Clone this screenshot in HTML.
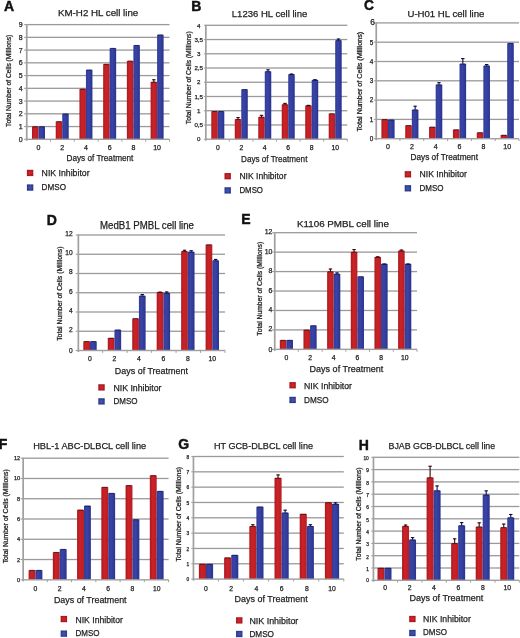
<!DOCTYPE html>
<html><head><meta charset="utf-8"><style>
html,body{margin:0;padding:0;background:#fff;}
body{width:520px;height:638px;overflow:hidden;}
svg{display:block;font-family:"Liberation Sans", sans-serif;filter:blur(0.5px);}
</style></head><body>
<svg width="520" height="638" viewBox="0 0 520 638"><defs>
<linearGradient id="gr" x1="0" x2="1" y1="0" y2="0"><stop offset="0" stop-color="#a81a20"/><stop offset="0.4" stop-color="#cc2226"/><stop offset="1" stop-color="#b81e25"/></linearGradient>
<linearGradient id="gb" x1="0" x2="1" y1="0" y2="0"><stop offset="0" stop-color="#303c96"/><stop offset="0.4" stop-color="#3a44a6"/><stop offset="1" stop-color="#2a348e"/></linearGradient>
<radialGradient id="lr" cx="0.5" cy="0.5" r="0.6"><stop offset="0.3" stop-color="#d0222a"/><stop offset="1" stop-color="#981419"/></radialGradient>
<radialGradient id="lb" cx="0.5" cy="0.5" r="0.6"><stop offset="0.3" stop-color="#404eb0"/><stop offset="1" stop-color="#22307a"/></radialGradient>
</defs>
<rect width="520" height="638" fill="#fff"/>
<g><text x="4" y="10.7" font-size="14" font-weight="bold" fill="#111" stroke="#111" stroke-width="0.45">A</text><text x="58" y="16" font-size="9.52" textLength="80.3" lengthAdjust="spacingAndGlyphs" fill="#222" stroke="#222" stroke-width="0.25">KM-H2 HL cell line</text><rect x="24.1" y="138.75" width="2.5" height="1.1" fill="#a0a0a0"/><text x="22.6" y="141.82" font-size="7" text-anchor="end" fill="#222" stroke="#222" stroke-width="0.25">0</text><rect x="26.6" y="125.91" width="142.9" height="1.3" fill="#9a9a9a"/><rect x="24.1" y="126.01" width="2.5" height="1.1" fill="#a0a0a0"/><text x="22.6" y="129.08" font-size="7" text-anchor="end" fill="#222" stroke="#222" stroke-width="0.25">1</text><rect x="26.6" y="113.16" width="142.9" height="1.3" fill="#9a9a9a"/><rect x="24.1" y="113.26" width="2.5" height="1.1" fill="#a0a0a0"/><text x="22.6" y="116.33" font-size="7" text-anchor="end" fill="#222" stroke="#222" stroke-width="0.25">2</text><rect x="26.6" y="100.42" width="142.9" height="1.3" fill="#9a9a9a"/><rect x="24.1" y="100.52" width="2.5" height="1.1" fill="#a0a0a0"/><text x="22.6" y="103.59" font-size="7" text-anchor="end" fill="#222" stroke="#222" stroke-width="0.25">3</text><rect x="26.6" y="87.67" width="142.9" height="1.3" fill="#9a9a9a"/><rect x="24.1" y="87.77" width="2.5" height="1.1" fill="#a0a0a0"/><text x="22.6" y="90.84" font-size="7" text-anchor="end" fill="#222" stroke="#222" stroke-width="0.25">4</text><rect x="26.6" y="74.93" width="142.9" height="1.3" fill="#9a9a9a"/><rect x="24.1" y="75.03" width="2.5" height="1.1" fill="#a0a0a0"/><text x="22.6" y="78.1" font-size="7" text-anchor="end" fill="#222" stroke="#222" stroke-width="0.25">5</text><rect x="26.6" y="62.18" width="142.9" height="1.3" fill="#9a9a9a"/><rect x="24.1" y="62.28" width="2.5" height="1.1" fill="#a0a0a0"/><text x="22.6" y="65.35" font-size="7" text-anchor="end" fill="#222" stroke="#222" stroke-width="0.25">6</text><rect x="26.6" y="49.44" width="142.9" height="1.3" fill="#9a9a9a"/><rect x="24.1" y="49.54" width="2.5" height="1.1" fill="#a0a0a0"/><text x="22.6" y="52.61" font-size="7" text-anchor="end" fill="#222" stroke="#222" stroke-width="0.25">7</text><rect x="26.6" y="36.69" width="142.9" height="1.3" fill="#9a9a9a"/><rect x="24.1" y="36.79" width="2.5" height="1.1" fill="#a0a0a0"/><text x="22.6" y="39.86" font-size="7" text-anchor="end" fill="#222" stroke="#222" stroke-width="0.25">8</text><rect x="26.6" y="23.95" width="142.9" height="1.3" fill="#9a9a9a"/><rect x="24.1" y="24.05" width="2.5" height="1.1" fill="#a0a0a0"/><text x="22.6" y="27.12" font-size="7" text-anchor="end" fill="#222" stroke="#222" stroke-width="0.25">9</text><rect x="32" y="126.56" width="6.5" height="12.74" fill="url(#gr)"/><rect x="32.8" y="126.26" width="4.9" height="1" fill="#300808" opacity="0.75"/><rect x="38.5" y="126.56" width="6.5" height="12.74" fill="url(#gb)"/><rect x="39.3" y="126.26" width="4.9" height="1" fill="#0c1040" opacity="0.75"/><text x="38.5" y="150.2" font-size="7" text-anchor="middle" fill="#222" stroke="#222" stroke-width="0.25">0</text><rect x="55.72" y="121.46" width="6.5" height="17.84" fill="url(#gr)"/><rect x="56.52" y="121.16" width="4.9" height="1" fill="#300808" opacity="0.75"/><rect x="62.22" y="113.81" width="6.5" height="25.49" fill="url(#gb)"/><rect x="63.02" y="113.51" width="4.9" height="1" fill="#0c1040" opacity="0.75"/><rect x="49.92" y="139.3" width="1" height="2.4" fill="#a0a0a0"/><text x="62.22" y="150.2" font-size="7" text-anchor="middle" fill="#222" stroke="#222" stroke-width="0.25">2</text><rect x="79.44" y="88.96" width="6.5" height="50.34" fill="url(#gr)"/><rect x="80.24" y="88.66" width="4.9" height="1" fill="#300808" opacity="0.75"/><rect x="85.94" y="69.84" width="6.5" height="69.46" fill="url(#gb)"/><rect x="86.74" y="69.54" width="4.9" height="1" fill="#0c1040" opacity="0.75"/><rect x="73.73" y="139.3" width="1" height="2.4" fill="#a0a0a0"/><text x="85.94" y="150.2" font-size="7" text-anchor="middle" fill="#222" stroke="#222" stroke-width="0.25">4</text><rect x="103.16" y="64.11" width="6.5" height="75.19" fill="url(#gr)"/><rect x="103.96" y="63.81" width="4.9" height="1" fill="#300808" opacity="0.75"/><rect x="109.66" y="48.18" width="6.5" height="91.12" fill="url(#gb)"/><rect x="110.46" y="47.88" width="4.9" height="1" fill="#0c1040" opacity="0.75"/><rect x="97.55" y="139.3" width="1" height="2.4" fill="#a0a0a0"/><text x="109.66" y="150.2" font-size="7" text-anchor="middle" fill="#222" stroke="#222" stroke-width="0.25">6</text><rect x="126.88" y="60.92" width="6.5" height="78.38" fill="url(#gr)"/><rect x="127.68" y="60.62" width="4.9" height="1" fill="#300808" opacity="0.75"/><rect x="133.38" y="45.25" width="6.5" height="94.05" fill="url(#gb)"/><rect x="134.18" y="44.95" width="4.9" height="1" fill="#0c1040" opacity="0.75"/><rect x="121.37" y="139.3" width="1" height="2.4" fill="#a0a0a0"/><text x="133.38" y="150.2" font-size="7" text-anchor="middle" fill="#222" stroke="#222" stroke-width="0.25">8</text><rect x="150.6" y="81.95" width="6.5" height="57.35" fill="url(#gr)"/><rect x="153.3" y="79.4" width="1.1" height="2.55" fill="#300808"/><rect x="152.15" y="79.2" width="3.4" height="1.1" fill="#300808"/><rect x="151.4" y="81.65" width="4.9" height="1" fill="#300808" opacity="0.75"/><rect x="157.1" y="34.8" width="6.5" height="104.5" fill="url(#gb)"/><rect x="157.9" y="34.5" width="4.9" height="1" fill="#0c1040" opacity="0.75"/><rect x="145.18" y="139.3" width="1" height="2.4" fill="#a0a0a0"/><text x="157.1" y="150.2" font-size="7" text-anchor="middle" fill="#222" stroke="#222" stroke-width="0.25">10</text><rect x="169" y="139.3" width="1" height="2.4" fill="#a0a0a0"/><rect x="25.9" y="24.1" width="1.7" height="116.7" fill="#a0a0a0"/><rect x="26.6" y="138.6" width="142.9" height="1.4" fill="#a0a0a0"/><text x="66.5" y="161" font-size="9.36" textLength="66.9" lengthAdjust="spacingAndGlyphs" fill="#222" stroke="#222" stroke-width="0.25">Days of Treatment</text><rect x="26.9" y="169.8" width="6.4" height="6.3" fill="url(#lr)"/><rect x="26.9" y="184.4" width="6.4" height="6.3" fill="url(#lb)"/><text x="41.6" y="176.2" font-size="9.36" textLength="48" lengthAdjust="spacingAndGlyphs" fill="#222" stroke="#222" stroke-width="0.25">NIK Inhibitor</text><text x="41.6" y="189.8" font-size="9.36" textLength="24.4" lengthAdjust="spacingAndGlyphs" fill="#222" stroke="#222" stroke-width="0.25">DMSO</text><text x="0" y="0" font-size="6.3" text-anchor="middle" textLength="92.1" lengthAdjust="spacingAndGlyphs" fill="#222" stroke="#222" stroke-width="0.25" transform="translate(10.8 80.85) rotate(-90)">Total Number of Cells (Millions)</text></g>
<g><text x="191.2" y="10.7" font-size="14" font-weight="bold" fill="#111" stroke="#111" stroke-width="0.45">B</text><text x="231.8" y="17.2" font-size="9.84" textLength="75.5" lengthAdjust="spacingAndGlyphs" fill="#222" stroke="#222" stroke-width="0.25">L1236 HL cell line</text><rect x="203.9" y="138.65" width="1.8" height="1.1" fill="#a0a0a0"/><text x="198.7" y="141.43" font-size="6.2" text-anchor="middle" fill="#222" stroke="#222" stroke-width="0.25">0</text><rect x="205.7" y="124.31" width="141.6" height="1.3" fill="#9a9a9a"/><rect x="203.9" y="124.41" width="1.8" height="1.1" fill="#a0a0a0"/><text x="198.7" y="127.19" font-size="6.2" text-anchor="middle" fill="#222" stroke="#222" stroke-width="0.25">0,5</text><rect x="205.7" y="110.07" width="141.6" height="1.3" fill="#9a9a9a"/><rect x="203.9" y="110.17" width="1.8" height="1.1" fill="#a0a0a0"/><text x="198.7" y="112.96" font-size="6.2" text-anchor="middle" fill="#222" stroke="#222" stroke-width="0.25">1</text><rect x="205.7" y="95.84" width="141.6" height="1.3" fill="#9a9a9a"/><rect x="203.9" y="95.94" width="1.8" height="1.1" fill="#a0a0a0"/><text x="198.7" y="98.72" font-size="6.2" text-anchor="middle" fill="#222" stroke="#222" stroke-width="0.25">1,5</text><rect x="205.7" y="81.6" width="141.6" height="1.3" fill="#9a9a9a"/><rect x="203.9" y="81.7" width="1.8" height="1.1" fill="#a0a0a0"/><text x="198.7" y="84.48" font-size="6.2" text-anchor="middle" fill="#222" stroke="#222" stroke-width="0.25">2</text><rect x="205.7" y="67.36" width="141.6" height="1.3" fill="#9a9a9a"/><rect x="203.9" y="67.46" width="1.8" height="1.1" fill="#a0a0a0"/><text x="198.7" y="70.24" font-size="6.2" text-anchor="middle" fill="#222" stroke="#222" stroke-width="0.25">2,5</text><rect x="205.7" y="53.12" width="141.6" height="1.3" fill="#9a9a9a"/><rect x="203.9" y="53.22" width="1.8" height="1.1" fill="#a0a0a0"/><text x="198.7" y="56.01" font-size="6.2" text-anchor="middle" fill="#222" stroke="#222" stroke-width="0.25">3</text><rect x="205.7" y="38.89" width="141.6" height="1.3" fill="#9a9a9a"/><rect x="203.9" y="38.99" width="1.8" height="1.1" fill="#a0a0a0"/><text x="198.7" y="41.77" font-size="6.2" text-anchor="middle" fill="#222" stroke="#222" stroke-width="0.25">3,5</text><rect x="205.7" y="24.65" width="141.6" height="1.3" fill="#9a9a9a"/><rect x="203.9" y="24.75" width="1.8" height="1.1" fill="#a0a0a0"/><text x="198.7" y="27.53" font-size="6.2" text-anchor="middle" fill="#222" stroke="#222" stroke-width="0.25">4</text><rect x="211.3" y="111.29" width="6.5" height="27.91" fill="url(#gr)"/><rect x="212.1" y="110.99" width="4.9" height="1" fill="#300808" opacity="0.75"/><rect x="217.8" y="111.29" width="6.5" height="27.91" fill="url(#gb)"/><rect x="218.6" y="110.99" width="4.9" height="1" fill="#0c1040" opacity="0.75"/><text x="217.8" y="149.6" font-size="6.8" text-anchor="middle" fill="#222" stroke="#222" stroke-width="0.25">0</text><rect x="234.78" y="119.27" width="6.5" height="19.93" fill="url(#gr)"/><rect x="237.48" y="117.27" width="1.1" height="1.99" fill="#300808"/><rect x="236.33" y="117.07" width="3.4" height="1.1" fill="#300808"/><rect x="235.58" y="118.97" width="4.9" height="1" fill="#300808" opacity="0.75"/><rect x="241.28" y="89.37" width="6.5" height="49.83" fill="url(#gb)"/><rect x="242.08" y="89.07" width="4.9" height="1" fill="#0c1040" opacity="0.75"/><rect x="228.8" y="139.2" width="1" height="2.4" fill="#a0a0a0"/><text x="241.28" y="149.6" font-size="6.8" text-anchor="middle" fill="#222" stroke="#222" stroke-width="0.25">2</text><rect x="258.26" y="116.99" width="6.5" height="22.21" fill="url(#gr)"/><rect x="260.96" y="115" width="1.1" height="1.99" fill="#300808"/><rect x="259.81" y="114.8" width="3.4" height="1.1" fill="#300808"/><rect x="259.06" y="116.69" width="4.9" height="1" fill="#300808" opacity="0.75"/><rect x="264.76" y="71.43" width="6.5" height="67.77" fill="url(#gb)"/><rect x="267.46" y="69.44" width="1.1" height="1.99" fill="#0c1040"/><rect x="266.31" y="69.24" width="3.4" height="1.1" fill="#0c1040"/><rect x="265.56" y="71.13" width="4.9" height="1" fill="#0c1040" opacity="0.75"/><rect x="252.4" y="139.2" width="1" height="2.4" fill="#a0a0a0"/><text x="264.76" y="149.6" font-size="6.8" text-anchor="middle" fill="#222" stroke="#222" stroke-width="0.25">4</text><rect x="281.74" y="104.46" width="6.5" height="34.74" fill="url(#gr)"/><rect x="284.44" y="103.04" width="1.1" height="1.42" fill="#300808"/><rect x="283.29" y="102.84" width="3.4" height="1.1" fill="#300808"/><rect x="282.54" y="104.16" width="4.9" height="1" fill="#300808" opacity="0.75"/><rect x="288.24" y="74.28" width="6.5" height="64.92" fill="url(#gb)"/><rect x="290.94" y="73.71" width="1.1" height="0.57" fill="#0c1040"/><rect x="289.79" y="73.51" width="3.4" height="1.1" fill="#0c1040"/><rect x="289.04" y="73.98" width="4.9" height="1" fill="#0c1040" opacity="0.75"/><rect x="276" y="139.2" width="1" height="2.4" fill="#a0a0a0"/><text x="288.24" y="149.6" font-size="6.8" text-anchor="middle" fill="#222" stroke="#222" stroke-width="0.25">6</text><rect x="305.22" y="105.6" width="6.5" height="33.6" fill="url(#gr)"/><rect x="307.92" y="105.03" width="1.1" height="0.57" fill="#300808"/><rect x="306.77" y="104.83" width="3.4" height="1.1" fill="#300808"/><rect x="306.02" y="105.3" width="4.9" height="1" fill="#300808" opacity="0.75"/><rect x="311.72" y="79.97" width="6.5" height="59.23" fill="url(#gb)"/><rect x="314.42" y="79.4" width="1.1" height="0.57" fill="#0c1040"/><rect x="313.27" y="79.2" width="3.4" height="1.1" fill="#0c1040"/><rect x="312.52" y="79.67" width="4.9" height="1" fill="#0c1040" opacity="0.75"/><rect x="299.6" y="139.2" width="1" height="2.4" fill="#a0a0a0"/><text x="311.72" y="149.6" font-size="6.8" text-anchor="middle" fill="#222" stroke="#222" stroke-width="0.25">8</text><rect x="328.7" y="113.57" width="6.5" height="25.63" fill="url(#gr)"/><rect x="329.5" y="113.27" width="4.9" height="1" fill="#300808" opacity="0.75"/><rect x="335.2" y="40.39" width="6.5" height="98.81" fill="url(#gb)"/><rect x="337.9" y="38.68" width="1.1" height="1.71" fill="#0c1040"/><rect x="336.75" y="38.48" width="3.4" height="1.1" fill="#0c1040"/><rect x="336" y="40.09" width="4.9" height="1" fill="#0c1040" opacity="0.75"/><rect x="323.2" y="139.2" width="1" height="2.4" fill="#a0a0a0"/><text x="335.2" y="149.6" font-size="6.8" text-anchor="middle" fill="#222" stroke="#222" stroke-width="0.25">10</text><rect x="346.8" y="139.2" width="1" height="2.4" fill="#a0a0a0"/><rect x="205" y="24.8" width="1.7" height="115.9" fill="#a0a0a0"/><rect x="205.7" y="138.5" width="141.6" height="1.4" fill="#a0a0a0"/><text x="241.1" y="161.6" font-size="9.36" textLength="66.3" lengthAdjust="spacingAndGlyphs" fill="#222" stroke="#222" stroke-width="0.25">Days of Treatment</text><rect x="224.5" y="173.05" width="6.4" height="6.3" fill="url(#lr)"/><rect x="224.5" y="187.25" width="6.4" height="6.3" fill="url(#lb)"/><text x="239.4" y="179.2" font-size="9.36" textLength="47.1" lengthAdjust="spacingAndGlyphs" fill="#222" stroke="#222" stroke-width="0.25">NIK Inhibitor</text><text x="239.4" y="192.7" font-size="9.36" textLength="23.6" lengthAdjust="spacingAndGlyphs" fill="#222" stroke="#222" stroke-width="0.25">DMSO</text><text x="0" y="0" font-size="6.3" text-anchor="middle" textLength="92.9" lengthAdjust="spacingAndGlyphs" fill="#222" stroke="#222" stroke-width="0.25" transform="translate(190.7 77.75) rotate(-90)">Total Number of Cells (Millions)</text></g>
<g><g transform="translate(364 10) scale(0.93 1)"><text x="0" y="0" font-size="14.8" font-weight="bold" fill="#111" stroke="#111" stroke-width="0.45">C</text></g><text x="407.5" y="16.8" font-size="9.63" textLength="76.9" lengthAdjust="spacingAndGlyphs" fill="#222" stroke="#222" stroke-width="0.25">U-H01 HL cell line</text><rect x="373.9" y="138.15" width="2.2" height="1.1" fill="#a0a0a0"/><text x="373.2" y="141" font-size="6.4" text-anchor="end" fill="#222" stroke="#222" stroke-width="0.25">0</text><rect x="376.1" y="118.75" width="142.9" height="1.3" fill="#9a9a9a"/><rect x="373.9" y="118.85" width="2.2" height="1.1" fill="#a0a0a0"/><text x="373.2" y="121.7" font-size="6.4" text-anchor="end" fill="#222" stroke="#222" stroke-width="0.25">1</text><rect x="376.1" y="99.45" width="142.9" height="1.3" fill="#9a9a9a"/><rect x="373.9" y="99.55" width="2.2" height="1.1" fill="#a0a0a0"/><text x="373.2" y="102.4" font-size="6.4" text-anchor="end" fill="#222" stroke="#222" stroke-width="0.25">2</text><rect x="376.1" y="80.15" width="142.9" height="1.3" fill="#9a9a9a"/><rect x="373.9" y="80.25" width="2.2" height="1.1" fill="#a0a0a0"/><text x="373.2" y="83.1" font-size="6.4" text-anchor="end" fill="#222" stroke="#222" stroke-width="0.25">3</text><rect x="376.1" y="60.85" width="142.9" height="1.3" fill="#9a9a9a"/><rect x="373.9" y="60.95" width="2.2" height="1.1" fill="#a0a0a0"/><text x="373.2" y="63.8" font-size="6.4" text-anchor="end" fill="#222" stroke="#222" stroke-width="0.25">4</text><rect x="376.1" y="41.55" width="142.9" height="1.3" fill="#9a9a9a"/><rect x="373.9" y="41.65" width="2.2" height="1.1" fill="#a0a0a0"/><text x="373.2" y="44.5" font-size="6.4" text-anchor="end" fill="#222" stroke="#222" stroke-width="0.25">5</text><rect x="376.1" y="22.25" width="142.9" height="1.3" fill="#9a9a9a"/><rect x="373.9" y="22.35" width="2.2" height="1.1" fill="#a0a0a0"/><text x="374.8" y="24.9" font-size="8.4" text-anchor="end" fill="#222" stroke="#222" stroke-width="0.25">6</text><rect x="381.4" y="119.4" width="6.6" height="19.3" fill="url(#gr)"/><rect x="382.2" y="119.1" width="5" height="1" fill="#300808" opacity="0.75"/><rect x="388" y="119.79" width="6.6" height="18.91" fill="url(#gb)"/><rect x="388.8" y="119.49" width="5" height="1" fill="#0c1040" opacity="0.75"/><text x="388" y="148.7" font-size="7" text-anchor="middle" fill="#222" stroke="#222" stroke-width="0.25">0</text><rect x="405.24" y="125.38" width="6.6" height="13.32" fill="url(#gr)"/><rect x="406.04" y="125.08" width="5" height="1" fill="#300808" opacity="0.75"/><rect x="411.84" y="109.75" width="6.6" height="28.95" fill="url(#gb)"/><rect x="414.59" y="105.89" width="1.1" height="3.86" fill="#0c1040"/><rect x="413.44" y="105.69" width="3.4" height="1.1" fill="#0c1040"/><rect x="412.64" y="109.45" width="5" height="1" fill="#0c1040" opacity="0.75"/><rect x="399.42" y="138.7" width="1" height="2.4" fill="#a0a0a0"/><text x="411.84" y="148.7" font-size="7" text-anchor="middle" fill="#222" stroke="#222" stroke-width="0.25">2</text><rect x="429.08" y="126.93" width="6.6" height="11.77" fill="url(#gr)"/><rect x="429.88" y="126.63" width="5" height="1" fill="#300808" opacity="0.75"/><rect x="435.68" y="84.66" width="6.6" height="54.04" fill="url(#gb)"/><rect x="438.43" y="82.34" width="1.1" height="2.32" fill="#0c1040"/><rect x="437.28" y="82.14" width="3.4" height="1.1" fill="#0c1040"/><rect x="436.48" y="84.36" width="5" height="1" fill="#0c1040" opacity="0.75"/><rect x="423.23" y="138.7" width="1" height="2.4" fill="#a0a0a0"/><text x="435.68" y="148.7" font-size="7" text-anchor="middle" fill="#222" stroke="#222" stroke-width="0.25">4</text><rect x="452.92" y="129.63" width="6.6" height="9.07" fill="url(#gr)"/><rect x="453.72" y="129.33" width="5" height="1" fill="#300808" opacity="0.75"/><rect x="459.52" y="63.82" width="6.6" height="74.88" fill="url(#gb)"/><rect x="462.27" y="58.22" width="1.1" height="5.6" fill="#0c1040"/><rect x="461.12" y="58.02" width="3.4" height="1.1" fill="#0c1040"/><rect x="460.32" y="63.52" width="5" height="1" fill="#0c1040" opacity="0.75"/><rect x="447.05" y="138.7" width="1" height="2.4" fill="#a0a0a0"/><text x="459.52" y="148.7" font-size="7" text-anchor="middle" fill="#222" stroke="#222" stroke-width="0.25">6</text><rect x="476.76" y="132.52" width="6.6" height="6.18" fill="url(#gr)"/><rect x="477.56" y="132.22" width="5" height="1" fill="#300808" opacity="0.75"/><rect x="483.36" y="65.75" width="6.6" height="72.95" fill="url(#gb)"/><rect x="486.11" y="64.2" width="1.1" height="1.54" fill="#0c1040"/><rect x="484.96" y="64" width="3.4" height="1.1" fill="#0c1040"/><rect x="484.16" y="65.45" width="5" height="1" fill="#0c1040" opacity="0.75"/><rect x="470.87" y="138.7" width="1" height="2.4" fill="#a0a0a0"/><text x="483.36" y="148.7" font-size="7" text-anchor="middle" fill="#222" stroke="#222" stroke-width="0.25">8</text><rect x="500.6" y="135.03" width="6.6" height="3.67" fill="url(#gr)"/><rect x="501.4" y="134.73" width="5" height="1" fill="#300808" opacity="0.75"/><rect x="507.2" y="43.17" width="6.6" height="95.53" fill="url(#gb)"/><rect x="508" y="42.87" width="5" height="1" fill="#0c1040" opacity="0.75"/><rect x="494.68" y="138.7" width="1" height="2.4" fill="#a0a0a0"/><text x="507.2" y="148.7" font-size="7" text-anchor="middle" fill="#222" stroke="#222" stroke-width="0.25">10</text><rect x="518.5" y="138.7" width="1" height="2.4" fill="#a0a0a0"/><rect x="375.4" y="22.4" width="1.7" height="117.8" fill="#a0a0a0"/><rect x="376.1" y="138" width="142.9" height="1.4" fill="#a0a0a0"/><text x="410.5" y="159.5" font-size="9.36" textLength="67.5" lengthAdjust="spacingAndGlyphs" fill="#222" stroke="#222" stroke-width="0.25">Days of Treatment</text><rect x="404.7" y="171.15" width="6.4" height="6.3" fill="url(#lr)"/><rect x="404.7" y="185.15" width="6.4" height="6.3" fill="url(#lb)"/><text x="419.5" y="177.2" font-size="9.36" textLength="47.5" lengthAdjust="spacingAndGlyphs" fill="#222" stroke="#222" stroke-width="0.25">NIK Inhibitor</text><text x="419.5" y="191" font-size="9.36" textLength="24" lengthAdjust="spacingAndGlyphs" fill="#222" stroke="#222" stroke-width="0.25">DMSO</text><text x="0" y="0" font-size="6.3" text-anchor="middle" textLength="99.8" lengthAdjust="spacingAndGlyphs" fill="#222" stroke="#222" stroke-width="0.25" transform="translate(362.3 81.7) rotate(-90)">Total Number of Cells (Millions)</text></g>
<g><text x="46.8" y="224.6" font-size="14" font-weight="bold" fill="#111" stroke="#111" stroke-width="0.45">D</text><text x="100" y="229" font-size="10.06" textLength="94" lengthAdjust="spacingAndGlyphs" fill="#222" stroke="#222" stroke-width="0.25">MedB1 PMBL cell line</text><rect x="75.7" y="349.95" width="2.5" height="1.1" fill="#a0a0a0"/><text x="72.6" y="352.88" font-size="6.6" text-anchor="end" fill="#222" stroke="#222" stroke-width="0.25">0</text><rect x="78.2" y="330.6" width="146.8" height="1.3" fill="#9a9a9a"/><rect x="75.7" y="330.7" width="2.5" height="1.1" fill="#a0a0a0"/><text x="72.6" y="332.13" font-size="6.6" text-anchor="end" fill="#222" stroke="#222" stroke-width="0.25">2</text><rect x="78.2" y="311.35" width="146.8" height="1.3" fill="#9a9a9a"/><rect x="75.7" y="311.45" width="2.5" height="1.1" fill="#a0a0a0"/><text x="72.6" y="312.88" font-size="6.6" text-anchor="end" fill="#222" stroke="#222" stroke-width="0.25">4</text><rect x="78.2" y="292.1" width="146.8" height="1.3" fill="#9a9a9a"/><rect x="75.7" y="292.2" width="2.5" height="1.1" fill="#a0a0a0"/><text x="72.6" y="293.63" font-size="6.6" text-anchor="end" fill="#222" stroke="#222" stroke-width="0.25">6</text><rect x="78.2" y="272.85" width="146.8" height="1.3" fill="#9a9a9a"/><rect x="75.7" y="272.95" width="2.5" height="1.1" fill="#a0a0a0"/><text x="72.6" y="274.38" font-size="6.6" text-anchor="end" fill="#222" stroke="#222" stroke-width="0.25">8</text><rect x="78.2" y="253.6" width="146.8" height="1.3" fill="#9a9a9a"/><rect x="75.7" y="253.7" width="2.5" height="1.1" fill="#a0a0a0"/><text x="72.6" y="255.13" font-size="6.6" text-anchor="end" fill="#222" stroke="#222" stroke-width="0.25">10</text><rect x="78.2" y="234.35" width="146.8" height="1.3" fill="#9a9a9a"/><rect x="75.7" y="234.45" width="2.5" height="1.1" fill="#a0a0a0"/><text x="72.6" y="235.88" font-size="6.6" text-anchor="end" fill="#222" stroke="#222" stroke-width="0.25">12</text><rect x="83.3" y="341.36" width="6.7" height="9.14" fill="url(#gr)"/><rect x="84.1" y="341.06" width="5.1" height="1" fill="#300808" opacity="0.75"/><rect x="90" y="341.36" width="6.7" height="9.14" fill="url(#gb)"/><rect x="90.8" y="341.06" width="5.1" height="1" fill="#0c1040" opacity="0.75"/><text x="90" y="361" font-size="6.8" text-anchor="middle" fill="#222" stroke="#222" stroke-width="0.25">0</text><rect x="107.76" y="337.99" width="6.7" height="12.51" fill="url(#gr)"/><rect x="108.56" y="337.69" width="5.1" height="1" fill="#300808" opacity="0.75"/><rect x="114.46" y="329.81" width="6.7" height="20.69" fill="url(#gb)"/><rect x="115.26" y="329.51" width="5.1" height="1" fill="#0c1040" opacity="0.75"/><rect x="102.17" y="350.5" width="1" height="2.4" fill="#a0a0a0"/><text x="114.46" y="361" font-size="6.8" text-anchor="middle" fill="#222" stroke="#222" stroke-width="0.25">2</text><rect x="132.22" y="318.45" width="6.7" height="32.05" fill="url(#gr)"/><rect x="133.02" y="318.15" width="5.1" height="1" fill="#300808" opacity="0.75"/><rect x="138.92" y="295.83" width="6.7" height="54.67" fill="url(#gb)"/><rect x="141.72" y="294.19" width="1.1" height="1.64" fill="#0c1040"/><rect x="140.57" y="293.99" width="3.4" height="1.1" fill="#0c1040"/><rect x="139.72" y="295.53" width="5.1" height="1" fill="#0c1040" opacity="0.75"/><rect x="126.63" y="350.5" width="1" height="2.4" fill="#a0a0a0"/><text x="138.92" y="361" font-size="6.8" text-anchor="middle" fill="#222" stroke="#222" stroke-width="0.25">4</text><rect x="156.68" y="292.27" width="6.7" height="58.23" fill="url(#gr)"/><rect x="159.48" y="291.79" width="1.1" height="0.48" fill="#300808"/><rect x="158.33" y="291.59" width="3.4" height="1.1" fill="#300808"/><rect x="157.48" y="291.97" width="5.1" height="1" fill="#300808" opacity="0.75"/><rect x="163.38" y="293.04" width="6.7" height="57.46" fill="url(#gb)"/><rect x="166.18" y="291.6" width="1.1" height="1.44" fill="#0c1040"/><rect x="165.03" y="291.4" width="3.4" height="1.1" fill="#0c1040"/><rect x="164.18" y="292.74" width="5.1" height="1" fill="#0c1040" opacity="0.75"/><rect x="151.1" y="350.5" width="1" height="2.4" fill="#a0a0a0"/><text x="163.38" y="361" font-size="6.8" text-anchor="middle" fill="#222" stroke="#222" stroke-width="0.25">6</text><rect x="181.14" y="251.36" width="6.7" height="99.14" fill="url(#gr)"/><rect x="183.94" y="249.92" width="1.1" height="1.44" fill="#300808"/><rect x="182.79" y="249.72" width="3.4" height="1.1" fill="#300808"/><rect x="181.94" y="251.06" width="5.1" height="1" fill="#300808" opacity="0.75"/><rect x="187.84" y="251.84" width="6.7" height="98.66" fill="url(#gb)"/><rect x="190.64" y="250.4" width="1.1" height="1.44" fill="#0c1040"/><rect x="189.49" y="250.2" width="3.4" height="1.1" fill="#0c1040"/><rect x="188.64" y="251.54" width="5.1" height="1" fill="#0c1040" opacity="0.75"/><rect x="175.57" y="350.5" width="1" height="2.4" fill="#a0a0a0"/><text x="187.84" y="361" font-size="6.8" text-anchor="middle" fill="#222" stroke="#222" stroke-width="0.25">8</text><rect x="205.6" y="244.62" width="6.7" height="105.88" fill="url(#gr)"/><rect x="206.4" y="244.32" width="5.1" height="1" fill="#300808" opacity="0.75"/><rect x="212.3" y="260.51" width="6.7" height="89.99" fill="url(#gb)"/><rect x="215.1" y="259.06" width="1.1" height="1.44" fill="#0c1040"/><rect x="213.95" y="258.86" width="3.4" height="1.1" fill="#0c1040"/><rect x="213.1" y="260.21" width="5.1" height="1" fill="#0c1040" opacity="0.75"/><rect x="200.03" y="350.5" width="1" height="2.4" fill="#a0a0a0"/><text x="212.3" y="361" font-size="6.8" text-anchor="middle" fill="#222" stroke="#222" stroke-width="0.25">10</text><rect x="224.5" y="350.5" width="1" height="2.4" fill="#a0a0a0"/><rect x="77.5" y="234.5" width="1.7" height="117.5" fill="#a0a0a0"/><rect x="78.2" y="349.8" width="146.8" height="1.4" fill="#a0a0a0"/><text x="114.8" y="373.8" font-size="9.98" textLength="73.1" lengthAdjust="spacingAndGlyphs" fill="#222" stroke="#222" stroke-width="0.25">Days of Treatment</text><rect x="98.3" y="384.25" width="6.4" height="6.3" fill="url(#lr)"/><rect x="98.3" y="398.25" width="6.4" height="6.3" fill="url(#lb)"/><text x="113.4" y="390.6" font-size="9.36" textLength="48.1" lengthAdjust="spacingAndGlyphs" fill="#222" stroke="#222" stroke-width="0.25">NIK Inhibitor</text><text x="113.4" y="404.3" font-size="9.36" textLength="24.1" lengthAdjust="spacingAndGlyphs" fill="#222" stroke="#222" stroke-width="0.25">DMSO</text><text x="0" y="0" font-size="6.3" text-anchor="middle" textLength="94.2" lengthAdjust="spacingAndGlyphs" fill="#222" stroke="#222" stroke-width="0.25" transform="translate(62.4 293.7) rotate(-90)">Total Number of Cells (Millions)</text></g>
<g><text x="241.3" y="223.6" font-size="14" font-weight="bold" fill="#111" stroke="#111" stroke-width="0.45">E</text><text x="297" y="227.4" font-size="9.63" textLength="92" lengthAdjust="spacingAndGlyphs" fill="#222" stroke="#222" stroke-width="0.25">K1106 PMBL cell line</text><rect x="272.1" y="348.8" width="2.5" height="1.1" fill="#a0a0a0"/><text x="272.3" y="351.83" font-size="6.9" text-anchor="end" fill="#222" stroke="#222" stroke-width="0.25">0</text><rect x="274.6" y="329.26" width="142.4" height="1.3" fill="#9a9a9a"/><rect x="272.1" y="329.36" width="2.5" height="1.1" fill="#a0a0a0"/><text x="272.3" y="331.39" font-size="6.9" text-anchor="end" fill="#222" stroke="#222" stroke-width="0.25">2</text><rect x="274.6" y="309.82" width="142.4" height="1.3" fill="#9a9a9a"/><rect x="272.1" y="309.92" width="2.5" height="1.1" fill="#a0a0a0"/><text x="272.3" y="311.95" font-size="6.9" text-anchor="end" fill="#222" stroke="#222" stroke-width="0.25">4</text><rect x="274.6" y="290.38" width="142.4" height="1.3" fill="#9a9a9a"/><rect x="272.1" y="290.47" width="2.5" height="1.1" fill="#a0a0a0"/><text x="272.3" y="292.51" font-size="6.9" text-anchor="end" fill="#222" stroke="#222" stroke-width="0.25">6</text><rect x="274.6" y="270.93" width="142.4" height="1.3" fill="#9a9a9a"/><rect x="272.1" y="271.03" width="2.5" height="1.1" fill="#a0a0a0"/><text x="272.3" y="273.07" font-size="6.9" text-anchor="end" fill="#222" stroke="#222" stroke-width="0.25">8</text><rect x="274.6" y="251.49" width="142.4" height="1.3" fill="#9a9a9a"/><rect x="272.1" y="251.59" width="2.5" height="1.1" fill="#a0a0a0"/><text x="272.3" y="253.63" font-size="6.9" text-anchor="end" fill="#222" stroke="#222" stroke-width="0.25">10</text><rect x="274.6" y="232.05" width="142.4" height="1.3" fill="#9a9a9a"/><rect x="272.1" y="232.15" width="2.5" height="1.1" fill="#a0a0a0"/><text x="272.3" y="234.18" font-size="6.9" text-anchor="end" fill="#222" stroke="#222" stroke-width="0.25">12</text><rect x="279.8" y="340.12" width="6.6" height="9.23" fill="url(#gr)"/><rect x="280.6" y="339.82" width="5" height="1" fill="#300808" opacity="0.75"/><rect x="286.4" y="340.12" width="6.6" height="9.23" fill="url(#gb)"/><rect x="287.2" y="339.82" width="5" height="1" fill="#0c1040" opacity="0.75"/><text x="286.4" y="360.3" font-size="6.8" text-anchor="middle" fill="#222" stroke="#222" stroke-width="0.25">0</text><rect x="303.46" y="329.91" width="6.6" height="19.44" fill="url(#gr)"/><rect x="304.26" y="329.61" width="5" height="1" fill="#300808" opacity="0.75"/><rect x="310.06" y="325.53" width="6.6" height="23.82" fill="url(#gb)"/><rect x="310.86" y="325.23" width="5" height="1" fill="#0c1040" opacity="0.75"/><rect x="297.83" y="349.35" width="1" height="2.4" fill="#a0a0a0"/><text x="310.06" y="360.3" font-size="6.8" text-anchor="middle" fill="#222" stroke="#222" stroke-width="0.25">2</text><rect x="327.12" y="271.58" width="6.6" height="77.77" fill="url(#gr)"/><rect x="329.87" y="268.67" width="1.1" height="2.92" fill="#300808"/><rect x="328.72" y="268.47" width="3.4" height="1.1" fill="#300808"/><rect x="327.92" y="271.28" width="5" height="1" fill="#300808" opacity="0.75"/><rect x="333.72" y="273.92" width="6.6" height="75.43" fill="url(#gb)"/><rect x="336.47" y="272.56" width="1.1" height="1.36" fill="#0c1040"/><rect x="335.32" y="272.36" width="3.4" height="1.1" fill="#0c1040"/><rect x="334.52" y="273.62" width="5" height="1" fill="#0c1040" opacity="0.75"/><rect x="321.57" y="349.35" width="1" height="2.4" fill="#a0a0a0"/><text x="333.72" y="360.3" font-size="6.8" text-anchor="middle" fill="#222" stroke="#222" stroke-width="0.25">4</text><rect x="350.78" y="251.95" width="6.6" height="97.4" fill="url(#gr)"/><rect x="353.53" y="249.23" width="1.1" height="2.72" fill="#300808"/><rect x="352.38" y="249.03" width="3.4" height="1.1" fill="#300808"/><rect x="351.58" y="251.65" width="5" height="1" fill="#300808" opacity="0.75"/><rect x="357.38" y="276.54" width="6.6" height="72.81" fill="url(#gb)"/><rect x="358.18" y="276.24" width="5" height="1" fill="#0c1040" opacity="0.75"/><rect x="345.3" y="349.35" width="1" height="2.4" fill="#a0a0a0"/><text x="357.38" y="360.3" font-size="6.8" text-anchor="middle" fill="#222" stroke="#222" stroke-width="0.25">6</text><rect x="374.44" y="257" width="6.6" height="92.35" fill="url(#gr)"/><rect x="377.19" y="256.52" width="1.1" height="0.49" fill="#300808"/><rect x="376.04" y="256.32" width="3.4" height="1.1" fill="#300808"/><rect x="375.24" y="256.7" width="5" height="1" fill="#300808" opacity="0.75"/><rect x="381.04" y="263.9" width="6.6" height="85.45" fill="url(#gb)"/><rect x="383.79" y="263.71" width="1.1" height="0.19" fill="#0c1040"/><rect x="382.64" y="263.51" width="3.4" height="1.1" fill="#0c1040"/><rect x="381.84" y="263.6" width="5" height="1" fill="#0c1040" opacity="0.75"/><rect x="369.03" y="349.35" width="1" height="2.4" fill="#a0a0a0"/><text x="381.04" y="360.3" font-size="6.8" text-anchor="middle" fill="#222" stroke="#222" stroke-width="0.25">8</text><rect x="398.1" y="250.78" width="6.6" height="98.57" fill="url(#gr)"/><rect x="400.85" y="249.71" width="1.1" height="1.07" fill="#300808"/><rect x="399.7" y="249.51" width="3.4" height="1.1" fill="#300808"/><rect x="398.9" y="250.48" width="5" height="1" fill="#300808" opacity="0.75"/><rect x="404.7" y="263.9" width="6.6" height="85.45" fill="url(#gb)"/><rect x="407.45" y="263.71" width="1.1" height="0.19" fill="#0c1040"/><rect x="406.3" y="263.51" width="3.4" height="1.1" fill="#0c1040"/><rect x="405.5" y="263.6" width="5" height="1" fill="#0c1040" opacity="0.75"/><rect x="392.77" y="349.35" width="1" height="2.4" fill="#a0a0a0"/><text x="404.7" y="360.3" font-size="6.8" text-anchor="middle" fill="#222" stroke="#222" stroke-width="0.25">10</text><rect x="416.5" y="349.35" width="1" height="2.4" fill="#a0a0a0"/><rect x="273.9" y="232.2" width="1.7" height="118.65" fill="#a0a0a0"/><rect x="274.6" y="348.65" width="142.4" height="1.4" fill="#a0a0a0"/><text x="309.6" y="372.4" font-size="9.67" textLength="73.6" lengthAdjust="spacingAndGlyphs" fill="#222" stroke="#222" stroke-width="0.25">Days of Treatment</text><rect x="289.4" y="382.1" width="6.4" height="6.3" fill="url(#lr)"/><rect x="289.4" y="396.8" width="6.4" height="6.3" fill="url(#lb)"/><text x="304" y="388.7" font-size="9.36" textLength="48" lengthAdjust="spacingAndGlyphs" fill="#222" stroke="#222" stroke-width="0.25">NIK Inhibitor</text><text x="304" y="402.6" font-size="9.36" textLength="24.5" lengthAdjust="spacingAndGlyphs" fill="#222" stroke="#222" stroke-width="0.25">DMSO</text><text x="0" y="0" font-size="6.3" text-anchor="middle" textLength="93.9" lengthAdjust="spacingAndGlyphs" fill="#222" stroke="#222" stroke-width="0.25" transform="translate(261.6 288.75) rotate(-90)">Total Number of Cells (Millions)</text></g>
<g><text x="-1.3" y="448.8" font-size="14" font-weight="bold" fill="#111" stroke="#111" stroke-width="0.45">F</text><text x="33.2" y="449" font-size="9.74" textLength="113" lengthAdjust="spacingAndGlyphs" fill="#222" stroke="#222" stroke-width="0.25">HBL-1 ABC-DLBCL cell line</text><rect x="20.5" y="579.25" width="2.5" height="1.1" fill="#a0a0a0"/><text x="20.2" y="581.82" font-size="5.6" text-anchor="end" fill="#222" stroke="#222" stroke-width="0.25">0</text><rect x="23" y="558.88" width="145.6" height="1.3" fill="#9a9a9a"/><rect x="20.5" y="558.98" width="2.5" height="1.1" fill="#a0a0a0"/><text x="20.2" y="561.55" font-size="5.6" text-anchor="end" fill="#222" stroke="#222" stroke-width="0.25">2</text><rect x="23" y="538.62" width="145.6" height="1.3" fill="#9a9a9a"/><rect x="20.5" y="538.72" width="2.5" height="1.1" fill="#a0a0a0"/><text x="20.2" y="541.28" font-size="5.6" text-anchor="end" fill="#222" stroke="#222" stroke-width="0.25">4</text><rect x="23" y="518.35" width="145.6" height="1.3" fill="#9a9a9a"/><rect x="20.5" y="518.45" width="2.5" height="1.1" fill="#a0a0a0"/><text x="20.2" y="521.02" font-size="5.6" text-anchor="end" fill="#222" stroke="#222" stroke-width="0.25">6</text><rect x="23" y="498.08" width="145.6" height="1.3" fill="#9a9a9a"/><rect x="20.5" y="498.18" width="2.5" height="1.1" fill="#a0a0a0"/><text x="20.2" y="500.75" font-size="5.6" text-anchor="end" fill="#222" stroke="#222" stroke-width="0.25">8</text><rect x="23" y="477.82" width="145.6" height="1.3" fill="#9a9a9a"/><rect x="20.5" y="477.92" width="2.5" height="1.1" fill="#a0a0a0"/><text x="20.2" y="480.48" font-size="5.6" text-anchor="end" fill="#222" stroke="#222" stroke-width="0.25">10</text><rect x="23" y="457.55" width="145.6" height="1.3" fill="#9a9a9a"/><rect x="20.5" y="457.65" width="2.5" height="1.1" fill="#a0a0a0"/><text x="20.2" y="460.22" font-size="5.6" text-anchor="end" fill="#222" stroke="#222" stroke-width="0.25">12</text><rect x="28.6" y="570.17" width="6.9" height="9.63" fill="url(#gr)"/><rect x="29.4" y="569.87" width="5.3" height="1" fill="#300808" opacity="0.75"/><rect x="35.5" y="570.17" width="6.9" height="9.63" fill="url(#gb)"/><rect x="36.3" y="569.87" width="5.3" height="1" fill="#0c1040" opacity="0.75"/><text x="35.5" y="591.3" font-size="6.8" text-anchor="middle" fill="#222" stroke="#222" stroke-width="0.25">0</text><rect x="52.84" y="552.24" width="6.9" height="27.56" fill="url(#gr)"/><rect x="53.64" y="551.94" width="5.3" height="1" fill="#300808" opacity="0.75"/><rect x="59.74" y="549.2" width="6.9" height="30.6" fill="url(#gb)"/><rect x="60.54" y="548.9" width="5.3" height="1" fill="#0c1040" opacity="0.75"/><rect x="46.77" y="579.8" width="1" height="2.4" fill="#a0a0a0"/><text x="59.74" y="591.3" font-size="6.8" text-anchor="middle" fill="#222" stroke="#222" stroke-width="0.25">2</text><rect x="77.08" y="509.88" width="6.9" height="69.92" fill="url(#gr)"/><rect x="77.88" y="509.58" width="5.3" height="1" fill="#300808" opacity="0.75"/><rect x="83.98" y="505.83" width="6.9" height="73.97" fill="url(#gb)"/><rect x="84.78" y="505.53" width="5.3" height="1" fill="#0c1040" opacity="0.75"/><rect x="71.03" y="579.8" width="1" height="2.4" fill="#a0a0a0"/><text x="83.98" y="591.3" font-size="6.8" text-anchor="middle" fill="#222" stroke="#222" stroke-width="0.25">4</text><rect x="101.32" y="487.08" width="6.9" height="92.72" fill="url(#gr)"/><rect x="102.12" y="486.78" width="5.3" height="1" fill="#300808" opacity="0.75"/><rect x="108.22" y="493.16" width="6.9" height="86.64" fill="url(#gb)"/><rect x="109.02" y="492.86" width="5.3" height="1" fill="#0c1040" opacity="0.75"/><rect x="95.3" y="579.8" width="1" height="2.4" fill="#a0a0a0"/><text x="108.22" y="591.3" font-size="6.8" text-anchor="middle" fill="#222" stroke="#222" stroke-width="0.25">6</text><rect x="125.56" y="485.36" width="6.9" height="94.44" fill="url(#gr)"/><rect x="126.36" y="485.06" width="5.3" height="1" fill="#300808" opacity="0.75"/><rect x="132.46" y="519.51" width="6.9" height="60.29" fill="url(#gb)"/><rect x="133.26" y="519.21" width="5.3" height="1" fill="#0c1040" opacity="0.75"/><rect x="119.57" y="579.8" width="1" height="2.4" fill="#a0a0a0"/><text x="132.46" y="591.3" font-size="6.8" text-anchor="middle" fill="#222" stroke="#222" stroke-width="0.25">8</text><rect x="149.8" y="475.43" width="6.9" height="104.37" fill="url(#gr)"/><rect x="150.6" y="475.13" width="5.3" height="1" fill="#300808" opacity="0.75"/><rect x="156.7" y="491.13" width="6.9" height="88.67" fill="url(#gb)"/><rect x="157.5" y="490.83" width="5.3" height="1" fill="#0c1040" opacity="0.75"/><rect x="143.83" y="579.8" width="1" height="2.4" fill="#a0a0a0"/><text x="156.7" y="591.3" font-size="6.8" text-anchor="middle" fill="#222" stroke="#222" stroke-width="0.25">10</text><rect x="168.1" y="579.8" width="1" height="2.4" fill="#a0a0a0"/><rect x="22.3" y="457.7" width="1.7" height="123.6" fill="#a0a0a0"/><rect x="23" y="579.1" width="145.6" height="1.4" fill="#a0a0a0"/><text x="53.9" y="603.2" font-size="9.78" textLength="72.7" lengthAdjust="spacingAndGlyphs" fill="#222" stroke="#222" stroke-width="0.25">Days of Treatment</text><rect x="60.65" y="615.9" width="6.4" height="6.3" fill="url(#lr)"/><rect x="60.65" y="630.5" width="6.4" height="6.3" fill="url(#lb)"/><text x="75.5" y="622.6" font-size="9.36" textLength="47.4" lengthAdjust="spacingAndGlyphs" fill="#222" stroke="#222" stroke-width="0.25">NIK Inhibitor</text><text x="75.5" y="636.3" font-size="9.36" textLength="24" lengthAdjust="spacingAndGlyphs" fill="#222" stroke="#222" stroke-width="0.25">DMSO</text><text x="0" y="0" font-size="6.3" text-anchor="middle" textLength="94.1" lengthAdjust="spacingAndGlyphs" fill="#222" stroke="#222" stroke-width="0.25" transform="translate(8.4 516.3) rotate(-90)">Total Number of Cells (Millions)</text></g>
<g><text x="178.3" y="448.8" font-size="14" font-weight="bold" fill="#111" stroke="#111" stroke-width="0.45">G</text><text x="214" y="449" font-size="9.74" textLength="99" lengthAdjust="spacingAndGlyphs" fill="#222" stroke="#222" stroke-width="0.25">HT GCB-DLBCL cell line</text><rect x="191.3" y="578.55" width="2" height="1.1" fill="#a0a0a0"/><text x="189.2" y="580.83" font-size="4.8" text-anchor="end" fill="#222" stroke="#222" stroke-width="0.25">0</text><rect x="193.3" y="563.12" width="150.5" height="1.3" fill="#9a9a9a"/><rect x="191.3" y="563.23" width="2" height="1.1" fill="#a0a0a0"/><text x="189.2" y="566.1" font-size="4.8" text-anchor="end" fill="#222" stroke="#222" stroke-width="0.25">1</text><rect x="193.3" y="547.8" width="150.5" height="1.3" fill="#9a9a9a"/><rect x="191.3" y="547.9" width="2" height="1.1" fill="#a0a0a0"/><text x="189.2" y="550.78" font-size="4.8" text-anchor="end" fill="#222" stroke="#222" stroke-width="0.25">2</text><rect x="193.3" y="532.48" width="150.5" height="1.3" fill="#9a9a9a"/><rect x="191.3" y="532.58" width="2" height="1.1" fill="#a0a0a0"/><text x="189.2" y="535.45" font-size="4.8" text-anchor="end" fill="#222" stroke="#222" stroke-width="0.25">3</text><rect x="193.3" y="517.15" width="150.5" height="1.3" fill="#9a9a9a"/><rect x="191.3" y="517.25" width="2" height="1.1" fill="#a0a0a0"/><text x="189.2" y="520.13" font-size="4.8" text-anchor="end" fill="#222" stroke="#222" stroke-width="0.25">4</text><rect x="193.3" y="501.83" width="150.5" height="1.3" fill="#9a9a9a"/><rect x="191.3" y="501.93" width="2" height="1.1" fill="#a0a0a0"/><text x="189.2" y="504.8" font-size="4.8" text-anchor="end" fill="#222" stroke="#222" stroke-width="0.25">5</text><rect x="193.3" y="486.5" width="150.5" height="1.3" fill="#9a9a9a"/><rect x="191.3" y="486.6" width="2" height="1.1" fill="#a0a0a0"/><text x="189.2" y="489.48" font-size="4.8" text-anchor="end" fill="#222" stroke="#222" stroke-width="0.25">6</text><rect x="193.3" y="471.18" width="150.5" height="1.3" fill="#9a9a9a"/><rect x="191.3" y="471.27" width="2" height="1.1" fill="#a0a0a0"/><text x="189.2" y="474.15" font-size="4.8" text-anchor="end" fill="#222" stroke="#222" stroke-width="0.25">7</text><rect x="193.3" y="455.85" width="150.5" height="1.3" fill="#9a9a9a"/><rect x="191.3" y="455.95" width="2" height="1.1" fill="#a0a0a0"/><text x="189.2" y="458.83" font-size="4.8" text-anchor="end" fill="#222" stroke="#222" stroke-width="0.25">8</text><rect x="198.9" y="564.08" width="7.1" height="15.02" fill="url(#gr)"/><rect x="199.7" y="563.78" width="5.5" height="1" fill="#300808" opacity="0.75"/><rect x="206" y="564.08" width="7.1" height="15.02" fill="url(#gb)"/><rect x="206.8" y="563.78" width="5.5" height="1" fill="#0c1040" opacity="0.75"/><text x="206" y="591.2" font-size="6.8" text-anchor="middle" fill="#222" stroke="#222" stroke-width="0.25">0</text><rect x="224.1" y="557.64" width="7.1" height="21.46" fill="url(#gr)"/><rect x="224.9" y="557.35" width="5.5" height="1" fill="#300808" opacity="0.75"/><rect x="231.2" y="555.04" width="7.1" height="24.06" fill="url(#gb)"/><rect x="232" y="554.74" width="5.5" height="1" fill="#0c1040" opacity="0.75"/><rect x="217.88" y="579.1" width="1" height="2.4" fill="#a0a0a0"/><text x="231.2" y="591.2" font-size="6.8" text-anchor="middle" fill="#222" stroke="#222" stroke-width="0.25">2</text><rect x="249.3" y="526.23" width="7.1" height="52.87" fill="url(#gr)"/><rect x="252.3" y="524.39" width="1.1" height="1.84" fill="#300808"/><rect x="251.15" y="524.19" width="3.4" height="1.1" fill="#300808"/><rect x="250.1" y="525.93" width="5.5" height="1" fill="#300808" opacity="0.75"/><rect x="256.4" y="506.77" width="7.1" height="72.33" fill="url(#gb)"/><rect x="257.2" y="506.47" width="5.5" height="1" fill="#0c1040" opacity="0.75"/><rect x="242.97" y="579.1" width="1" height="2.4" fill="#a0a0a0"/><text x="256.4" y="591.2" font-size="6.8" text-anchor="middle" fill="#222" stroke="#222" stroke-width="0.25">4</text><rect x="274.5" y="477.96" width="7.1" height="101.14" fill="url(#gr)"/><rect x="277.5" y="474.58" width="1.1" height="3.37" fill="#300808"/><rect x="276.35" y="474.38" width="3.4" height="1.1" fill="#300808"/><rect x="275.3" y="477.66" width="5.5" height="1" fill="#300808" opacity="0.75"/><rect x="281.6" y="512.74" width="7.1" height="66.36" fill="url(#gb)"/><rect x="284.6" y="509.83" width="1.1" height="2.91" fill="#0c1040"/><rect x="283.45" y="509.63" width="3.4" height="1.1" fill="#0c1040"/><rect x="282.4" y="512.44" width="5.5" height="1" fill="#0c1040" opacity="0.75"/><rect x="268.05" y="579.1" width="1" height="2.4" fill="#a0a0a0"/><text x="281.6" y="591.2" font-size="6.8" text-anchor="middle" fill="#222" stroke="#222" stroke-width="0.25">6</text><rect x="299.7" y="513.97" width="7.1" height="65.13" fill="url(#gr)"/><rect x="300.5" y="513.67" width="5.5" height="1" fill="#300808" opacity="0.75"/><rect x="306.8" y="526.23" width="7.1" height="52.87" fill="url(#gb)"/><rect x="309.8" y="524.39" width="1.1" height="1.84" fill="#0c1040"/><rect x="308.65" y="524.19" width="3.4" height="1.1" fill="#0c1040"/><rect x="307.6" y="525.93" width="5.5" height="1" fill="#0c1040" opacity="0.75"/><rect x="293.13" y="579.1" width="1" height="2.4" fill="#a0a0a0"/><text x="306.8" y="591.2" font-size="6.8" text-anchor="middle" fill="#222" stroke="#222" stroke-width="0.25">8</text><rect x="324.9" y="502.48" width="7.1" height="76.62" fill="url(#gr)"/><rect x="325.7" y="502.18" width="5.5" height="1" fill="#300808" opacity="0.75"/><rect x="332" y="504.01" width="7.1" height="75.09" fill="url(#gb)"/><rect x="335" y="502.48" width="1.1" height="1.53" fill="#0c1040"/><rect x="333.85" y="502.28" width="3.4" height="1.1" fill="#0c1040"/><rect x="332.8" y="503.71" width="5.5" height="1" fill="#0c1040" opacity="0.75"/><rect x="318.22" y="579.1" width="1" height="2.4" fill="#a0a0a0"/><text x="332" y="591.2" font-size="6.8" text-anchor="middle" fill="#222" stroke="#222" stroke-width="0.25">10</text><rect x="343.3" y="579.1" width="1" height="2.4" fill="#a0a0a0"/><rect x="192.6" y="456" width="1.7" height="124.6" fill="#a0a0a0"/><rect x="193.3" y="578.4" width="150.5" height="1.4" fill="#a0a0a0"/><text x="234.6" y="601.6" font-size="9.98" textLength="73.2" lengthAdjust="spacingAndGlyphs" fill="#222" stroke="#222" stroke-width="0.25">Days of Treatment</text><rect x="236.05" y="617.25" width="6.4" height="6.3" fill="url(#lr)"/><rect x="236.05" y="630.85" width="6.4" height="6.3" fill="url(#lb)"/><text x="249.4" y="624" font-size="9.36" textLength="48.9" lengthAdjust="spacingAndGlyphs" fill="#222" stroke="#222" stroke-width="0.25">NIK Inhibitor</text><text x="249.4" y="637" font-size="9.36" textLength="24.6" lengthAdjust="spacingAndGlyphs" fill="#222" stroke="#222" stroke-width="0.25">DMSO</text><text x="0" y="0" font-size="6.3" text-anchor="middle" textLength="94.6" lengthAdjust="spacingAndGlyphs" fill="#222" stroke="#222" stroke-width="0.25" transform="translate(181.2 514.2) rotate(-90)">Total Number of Cells (Millions)</text></g>
<g><text x="358.8" y="449.5" font-size="14" font-weight="bold" fill="#111" stroke="#111" stroke-width="0.45">H</text><text x="388.5" y="449" font-size="9.74" textLength="106.7" lengthAdjust="spacingAndGlyphs" fill="#222" stroke="#222" stroke-width="0.25">BJAB GCB-DLBCL cell line</text><rect x="371.3" y="579.75" width="2" height="1.1" fill="#a0a0a0"/><text x="368.8" y="582.03" font-size="4.8" text-anchor="end" fill="#222" stroke="#222" stroke-width="0.25">0</text><rect x="373.3" y="567.35" width="146" height="1.3" fill="#9a9a9a"/><rect x="371.3" y="567.45" width="2" height="1.1" fill="#a0a0a0"/><text x="368.8" y="570.83" font-size="4.8" text-anchor="end" fill="#222" stroke="#222" stroke-width="0.25">1</text><rect x="373.3" y="555.05" width="146" height="1.3" fill="#9a9a9a"/><rect x="371.3" y="555.15" width="2" height="1.1" fill="#a0a0a0"/><text x="368.8" y="558.53" font-size="4.8" text-anchor="end" fill="#222" stroke="#222" stroke-width="0.25">2</text><rect x="373.3" y="542.75" width="146" height="1.3" fill="#9a9a9a"/><rect x="371.3" y="542.85" width="2" height="1.1" fill="#a0a0a0"/><text x="368.8" y="546.23" font-size="4.8" text-anchor="end" fill="#222" stroke="#222" stroke-width="0.25">3</text><rect x="373.3" y="530.45" width="146" height="1.3" fill="#9a9a9a"/><rect x="371.3" y="530.55" width="2" height="1.1" fill="#a0a0a0"/><text x="368.8" y="533.93" font-size="4.8" text-anchor="end" fill="#222" stroke="#222" stroke-width="0.25">4</text><rect x="373.3" y="518.15" width="146" height="1.3" fill="#9a9a9a"/><rect x="371.3" y="518.25" width="2" height="1.1" fill="#a0a0a0"/><text x="368.8" y="521.63" font-size="4.8" text-anchor="end" fill="#222" stroke="#222" stroke-width="0.25">5</text><rect x="373.3" y="505.85" width="146" height="1.3" fill="#9a9a9a"/><rect x="371.3" y="505.95" width="2" height="1.1" fill="#a0a0a0"/><text x="368.8" y="509.33" font-size="4.8" text-anchor="end" fill="#222" stroke="#222" stroke-width="0.25">6</text><rect x="373.3" y="493.55" width="146" height="1.3" fill="#9a9a9a"/><rect x="371.3" y="493.65" width="2" height="1.1" fill="#a0a0a0"/><text x="368.8" y="497.03" font-size="4.8" text-anchor="end" fill="#222" stroke="#222" stroke-width="0.25">7</text><rect x="373.3" y="481.25" width="146" height="1.3" fill="#9a9a9a"/><rect x="371.3" y="481.35" width="2" height="1.1" fill="#a0a0a0"/><text x="368.8" y="484.73" font-size="4.8" text-anchor="end" fill="#222" stroke="#222" stroke-width="0.25">8</text><rect x="373.3" y="468.95" width="146" height="1.3" fill="#9a9a9a"/><rect x="371.3" y="469.05" width="2" height="1.1" fill="#a0a0a0"/><text x="368.8" y="472.43" font-size="4.8" text-anchor="end" fill="#222" stroke="#222" stroke-width="0.25">9</text><rect x="373.3" y="456.65" width="146" height="1.3" fill="#9a9a9a"/><rect x="371.3" y="456.75" width="2" height="1.1" fill="#a0a0a0"/><text x="368.8" y="460.13" font-size="4.8" text-anchor="end" fill="#222" stroke="#222" stroke-width="0.25">10</text><rect x="377.5" y="568" width="7" height="12.3" fill="url(#gr)"/><rect x="378.3" y="567.7" width="5.4" height="1" fill="#300808" opacity="0.75"/><rect x="384.5" y="568" width="7" height="12.3" fill="url(#gb)"/><rect x="385.3" y="567.7" width="5.4" height="1" fill="#0c1040" opacity="0.75"/><text x="385.1" y="589.5" font-size="6.8" text-anchor="middle" fill="#222" stroke="#222" stroke-width="0.25">0</text><rect x="402.05" y="526.18" width="7" height="54.12" fill="url(#gr)"/><rect x="405" y="524.7" width="1.1" height="1.48" fill="#300808"/><rect x="403.85" y="524.5" width="3.4" height="1.1" fill="#300808"/><rect x="402.85" y="525.88" width="5.4" height="1" fill="#300808" opacity="0.75"/><rect x="409.05" y="539.71" width="7" height="40.59" fill="url(#gb)"/><rect x="412" y="537.25" width="1.1" height="2.46" fill="#0c1040"/><rect x="410.85" y="537.05" width="3.4" height="1.1" fill="#0c1040"/><rect x="409.85" y="539.41" width="5.4" height="1" fill="#0c1040" opacity="0.75"/><rect x="397.13" y="580.3" width="1" height="2.4" fill="#a0a0a0"/><text x="409.55" y="589.5" font-size="6.8" text-anchor="middle" fill="#222" stroke="#222" stroke-width="0.25">2</text><rect x="426.6" y="477.6" width="7" height="102.7" fill="url(#gr)"/><rect x="429.55" y="465.91" width="1.1" height="11.69" fill="#300808"/><rect x="428.4" y="465.71" width="3.4" height="1.1" fill="#300808"/><rect x="427.4" y="477.3" width="5.4" height="1" fill="#300808" opacity="0.75"/><rect x="433.6" y="490.51" width="7" height="89.79" fill="url(#gb)"/><rect x="436.55" y="485.59" width="1.1" height="4.92" fill="#0c1040"/><rect x="435.4" y="485.39" width="3.4" height="1.1" fill="#0c1040"/><rect x="434.4" y="490.21" width="5.4" height="1" fill="#0c1040" opacity="0.75"/><rect x="421.47" y="580.3" width="1" height="2.4" fill="#a0a0a0"/><text x="434" y="589.5" font-size="6.8" text-anchor="middle" fill="#222" stroke="#222" stroke-width="0.25">4</text><rect x="451.15" y="543.4" width="7" height="36.9" fill="url(#gr)"/><rect x="454.1" y="538.48" width="1.1" height="4.92" fill="#300808"/><rect x="452.95" y="538.28" width="3.4" height="1.1" fill="#300808"/><rect x="451.95" y="543.1" width="5.4" height="1" fill="#300808" opacity="0.75"/><rect x="458.15" y="525.56" width="7" height="54.74" fill="url(#gb)"/><rect x="461.1" y="522.24" width="1.1" height="3.32" fill="#0c1040"/><rect x="459.95" y="522.04" width="3.4" height="1.1" fill="#0c1040"/><rect x="458.95" y="525.26" width="5.4" height="1" fill="#0c1040" opacity="0.75"/><rect x="445.8" y="580.3" width="1" height="2.4" fill="#a0a0a0"/><text x="458.45" y="589.5" font-size="6.8" text-anchor="middle" fill="#222" stroke="#222" stroke-width="0.25">6</text><rect x="475.7" y="526.79" width="7" height="53.5" fill="url(#gr)"/><rect x="478.65" y="522.49" width="1.1" height="4.3" fill="#300808"/><rect x="477.5" y="522.29" width="3.4" height="1.1" fill="#300808"/><rect x="476.5" y="526.5" width="5.4" height="1" fill="#300808" opacity="0.75"/><rect x="482.7" y="494.81" width="7" height="85.48" fill="url(#gb)"/><rect x="485.65" y="490.51" width="1.1" height="4.31" fill="#0c1040"/><rect x="484.5" y="490.31" width="3.4" height="1.1" fill="#0c1040"/><rect x="483.5" y="494.51" width="5.4" height="1" fill="#0c1040" opacity="0.75"/><rect x="470.13" y="580.3" width="1" height="2.4" fill="#a0a0a0"/><text x="482.9" y="589.5" font-size="6.8" text-anchor="middle" fill="#222" stroke="#222" stroke-width="0.25">8</text><rect x="500.25" y="527.41" width="7" height="52.89" fill="url(#gr)"/><rect x="503.2" y="523.72" width="1.1" height="3.69" fill="#300808"/><rect x="502.05" y="523.52" width="3.4" height="1.1" fill="#300808"/><rect x="501.05" y="527.11" width="5.4" height="1" fill="#300808" opacity="0.75"/><rect x="507.25" y="517.57" width="7" height="62.73" fill="url(#gb)"/><rect x="510.2" y="514.13" width="1.1" height="3.44" fill="#0c1040"/><rect x="509.05" y="513.93" width="3.4" height="1.1" fill="#0c1040"/><rect x="508.05" y="517.27" width="5.4" height="1" fill="#0c1040" opacity="0.75"/><rect x="494.47" y="580.3" width="1" height="2.4" fill="#a0a0a0"/><text x="507.35" y="589.5" font-size="6.8" text-anchor="middle" fill="#222" stroke="#222" stroke-width="0.25">10</text><rect x="518.8" y="580.3" width="1" height="2.4" fill="#a0a0a0"/><rect x="372.6" y="456.8" width="1.7" height="125" fill="#a0a0a0"/><rect x="373.3" y="579.6" width="146" height="1.4" fill="#a0a0a0"/><text x="409.5" y="601.2" font-size="9.98" textLength="73.7" lengthAdjust="spacingAndGlyphs" fill="#222" stroke="#222" stroke-width="0.25">Days of Treatment</text><rect x="409.2" y="615.85" width="6.4" height="6.3" fill="url(#lr)"/><rect x="409.2" y="629.85" width="6.4" height="6.3" fill="url(#lb)"/><text x="423" y="622" font-size="9.36" textLength="47.8" lengthAdjust="spacingAndGlyphs" fill="#222" stroke="#222" stroke-width="0.25">NIK Inhibitor</text><text x="423" y="635.3" font-size="9.36" textLength="24" lengthAdjust="spacingAndGlyphs" fill="#222" stroke="#222" stroke-width="0.25">DMSO</text><text x="0" y="0" font-size="6.3" text-anchor="middle" textLength="93.2" lengthAdjust="spacingAndGlyphs" fill="#222" stroke="#222" stroke-width="0.25" transform="translate(361 514.1) rotate(-90)">Total Number of Cells (Millions)</text></g>
</svg>
</body></html>
